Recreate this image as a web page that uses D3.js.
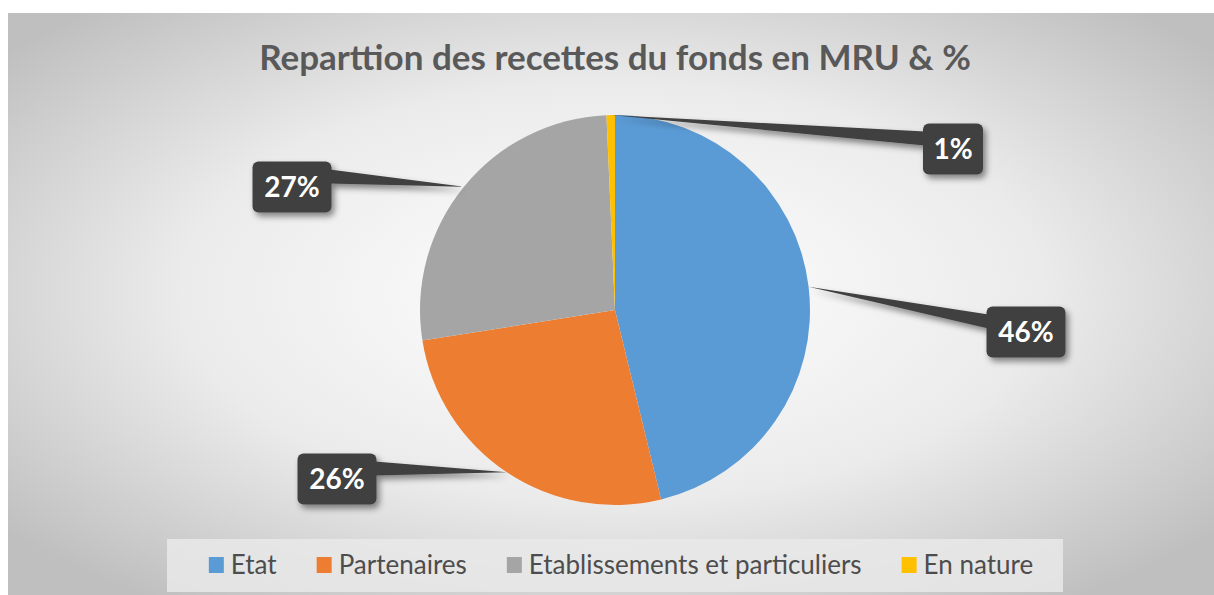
<!DOCTYPE html>
<html>
<head>
<meta charset="utf-8">
<script src="https://d3js.org/d3.v7.min.js"></script>
<style>
  body { margin: 0; background: #fff; }
  svg { display: block; font-family: Lato, "Open Sans", sans-serif; }
</style>
</head>
<body>
<svg width="1214" height="595"></svg>
<script>
// data (share of receipts, %)
var categories = ["Etat", "Partenaires", "Etablissements et particuliers", "En nature"];
var values = [46.2, 26.3, 26.8, 0.7];
var labels = ["46%", "26%", "27%", "1%"];
var colors = ["#5b9bd5", "#ed7d31", "#a5a5a5", "#ffc000"];

// callout box centres (where the labels were dragged to)
var boxPos = [[1026, 332], [337, 479], [292, 187], [953, 149]];

var svg = d3.select("svg"),
    width = +svg.attr("width"),
    height = +svg.attr("height"),
    cx = 615, cy = 310, radius = 195;

var defs = svg.append("defs");
var grad = defs.append("radialGradient").attr("id", "bg")
    .attr("cx", "50%").attr("cy", "48%").attr("r", "65%");
grad.append("stop").attr("offset", "0%").attr("stop-color", "#ffffff");
grad.append("stop").attr("offset", "55%").attr("stop-color", "#ebebeb");
grad.append("stop").attr("offset", "100%").attr("stop-color", "#bfbfbf");

var shadow = defs.append("filter").attr("id", "shadow")
    .attr("x", "-30%").attr("y", "-30%").attr("width", "170%").attr("height", "170%");
shadow.append("feDropShadow").attr("dx", 3).attr("dy", 4).attr("stdDeviation", 3)
    .attr("flood-color", "#000").attr("flood-opacity", 0.45);

svg.append("rect").attr("x", 8).attr("y", 13).attr("width", width - 8).attr("height", height - 13)
    .attr("fill", "url(#bg)");

svg.append("text").attr("x", cx).attr("y", 70).attr("text-anchor", "middle")
    .attr("font-size", 35).attr("font-weight", "bold").attr("fill", "#595959")
    .text("Reparttion des recettes du fonds en MRU & %");

var pie = d3.pie().sort(null).value(function(d){ return d; });
var arcs = pie(values);
var arc = d3.arc().innerRadius(0).outerRadius(radius);

var g = svg.append("g").attr("transform", "translate(" + cx + "," + cy + ")");
g.selectAll("path").data(arcs).enter().append("path")
    .attr("d", arc)
    .attr("fill", function(d, i){ return colors[i]; });

// callouts
var boxH = 51;
var callouts = svg.append("g");
arcs.forEach(function(d, i) {
    var a = (d.startAngle + d.endAngle) / 2;
    var tx = cx + radius * Math.sin(a), ty = cy - radius * Math.cos(a);
    var w = labels[i].length > 2 ? 79 : 60;
    var bx = boxPos[i][0] - w / 2, by = boxPos[i][1] - boxH / 2;
    var c = callouts.append("g").attr("filter", "url(#shadow)");
    // wedge from the box edge to the slice
    var ex = tx > bx + w / 2 ? bx + w - 2 : bx + 2;
    var y1 = by + 8, y2 = by + 22;
    if (ty > by + boxH / 2) { y1 = by + 12; y2 = by + 24; }
    c.append("path")
        .attr("d", "M" + ex + "," + y1 + "L" + tx + "," + ty + "L" + ex + "," + y2 + "Z")
        .attr("fill", "#404040");
    c.append("rect").attr("x", bx).attr("y", by).attr("width", w).attr("height", boxH)
        .attr("rx", 6).attr("fill", "#404040");
    callouts.append("text").attr("x", bx + w / 2).attr("y", by + boxH / 2 + 10)
        .attr("text-anchor", "middle").attr("font-size", 28).attr("font-weight", "bold")
        .attr("fill", "#fff").text(labels[i]);
});

// legend
var legend = svg.append("g");
legend.append("rect").attr("x", 167).attr("y", 539).attr("width", 896).attr("height", 53)
    .attr("fill", "#e9e9e9").attr("opacity", 0.85);
var items = legend.selectAll("g.item").data(categories).enter().append("g").attr("class", "item");
items.append("rect").attr("width", 15).attr("height", 16).attr("y", 557)
    .attr("fill", function(d, i){ return colors[i]; });
items.append("text").attr("y", 574).attr("font-size", 26).attr("fill", "#4d4d4d")
    .text(function(d){ return d; });
var widths = [];
items.select("text").each(function(){ widths.push(this.getComputedTextLength()); });
var total = d3.sum(widths) + categories.length * 22 + (categories.length - 1) * 40;
var x0 = 621 - total / 2;
items.each(function(d, i) {
    d3.select(this).select("rect").attr("x", x0);
    d3.select(this).select("text").attr("x", x0 + 22);
    x0 += 22 + widths[i] + 40;
});
</script>
</body>
</html>
